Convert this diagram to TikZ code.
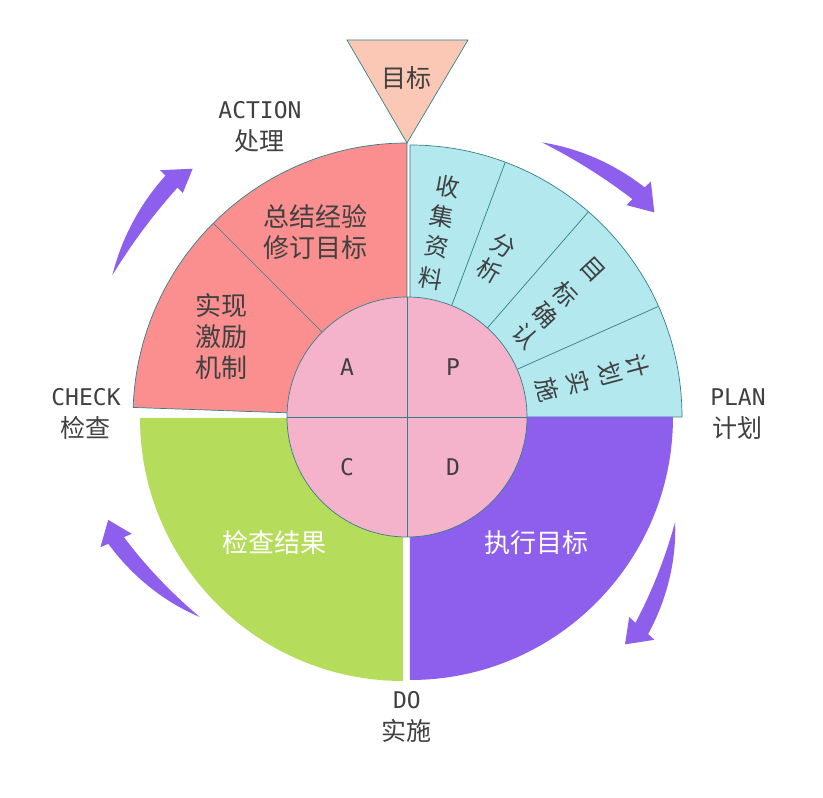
\documentclass[tikz,border=0pt]{standalone}
\usepackage{fontspec}
\setmainfont{Noto Sans CJK SC}
\newfontfamily\latinmono{DejaVu Sans Mono}
\definecolor{edgec}{RGB}{52,128,135}
\definecolor{txtc}{RGB}{64,64,64}
\definecolor{actc}{RGB}{251,143,143}
\definecolor{planc}{RGB}{178,232,238}
\definecolor{checkc}{RGB}{181,221,91}
\definecolor{doclr}{RGB}{142,95,236}
\definecolor{corec}{RGB}{245,178,203}
\definecolor{goalc}{RGB}{250,200,180}
\tikzset{
  sector/.style={draw=edgec, line width=0.7pt},
  tag/.style={text=txtc, font=\latinmono\fontsize{23}{28}\selectfont, inner sep=0pt},
  lab/.style={text=txtc, font=\fontsize{25}{30}\selectfont, inner sep=0pt},
  qtext/.style={font=\fontsize{26}{31}\selectfont, inner sep=0pt, align=center},
  seg/.style={text=txtc, font=\fontsize{24}{24}\selectfont, inner sep=0pt},
}
% 弯箭头：尾角, 尾半径, 根角, 根半径, 尖角, 尖半径, 身半宽, 头半宽
\newcommand{\cyclearrow}[8]{%
  \fill[doclr] plot[domain=0:1, samples=30, variable=\t]
      ({#1+\t*(#3-#1)}:{#2+\t*(#4-#2)+#7*\t*(2-\t)})
    -- ({#3}:{#4+#8}) -- ({#5}:{#6}) -- ({#3}:{#4-#8})
    -- plot[domain=1:0, samples=30, variable=\t]
      ({#1+\t*(#3-#1)}:{#2+\t*(#4-#2)-#7*\t*(2-\t)}) -- cycle;
}
\begin{document}
\begin{tikzpicture}[x=1pt, y=1pt]
  \useasboundingbox (-407,-381) rectangle (416,417);
  % 四个扇形
  \filldraw[sector, fill=actc] (0,0) -- (90:274) arc[start angle=90, end angle=178, radius=274] -- cycle;
  \filldraw[sector, fill=planc] (3,0) -- (3,272) arc[start angle=90, end angle=0, radius=272] -- cycle;
  \fill[checkc] (-4,-1) -- (-267,-1) arc[start angle=180, end angle=270, radius=263] -- cycle;
  \fill[doclr] (3,0) -- (3,-263) arc[start angle=270, end angle=360, radius=263] -- cycle;
  % 分隔线
  \draw[edgec, line width=0.7pt] (135:118) -- (135:274);
  \foreach \a in {69.5,49,24}
    \draw[edgec, line width=0.7pt] ([shift={(3,0)}]\a:118) -- ([shift={(3,0)}]\a:272);
  % 中心圆
  \filldraw[sector, fill=corec] (0,0) circle[radius=120];
  \draw[edgec, line width=0.7pt] (-120,0) -- (120,0) (0,-120) -- (0,120);
  \node[tag] (pA) at (-60,50) {A};
  \node[tag] (pP) at (46,50) {P};
  \node[tag] (pC) at (-60,-50) {C};
  \node[tag] (pD) at (46,-50) {D};
  % 目标三角形
  \filldraw[sector, fill=goalc] (-60,377) -- (61,377) -- (0,274) -- cycle;
  \node[lab] (goal) at (0,339) {目标};
  % 扇形内文字
  \node[qtext, text=txtc] (sumup) at (-91,185) {总结经验\\修订目标};
  \node[qtext, text=txtc] (reward) at (-185,80) {实现\\激励\\机制};
  \node[qtext, text=white] (checkres) at (-132,-126) {检查结果};
  \node[qtext, text=white] (dogoal) at (130,-126) {执行目标};
  \foreach \ch/\x/\y/\r [count=\k] in {收/40.5/230.3/-10, 集/34.7/200.3/-10, 资/29.7/170.3/-10, 料/23.7/138/-10,
      分/96.3/171.3/-30, 析/82/146.3/-30,
      目/186.3/147/-47, 标/158.7/123/-47, 确/138.7/102/-47, 认/118.7/81.3/-47,
      计/230.3/51.3/-75, 划/203/43.7/-75, 实/171.3/34.7/-75, 施/140.3/27/-75}
    \node[seg, rotate=\r] (seg\k) at (\x,\y) {\ch};
  % 外侧标签
  \node[tag] (actEn) at (-147,307) {ACTION};
  \node[lab] (actCn) at (-147,276) {处理};
  \node[tag] (planEn) at (331,20) {PLAN};
  \node[lab] (planCn) at (331,-11) {计划};
  \node[tag] (checkEn) at (-321,20) {CHECK};
  \node[lab] (checkCn) at (-321,-11) {检查};
  \node[tag] (doEn) at (0,-283) {DO};
  \node[lab] (doCn) at (0,-314) {实施};
  % 循环箭头
  \cyclearrow{63.8}{306}{44}{322}{39.6}{321}{8.5}{17}
  \cyclearrow{338.6}{288}{318}{316}{313.8}{315}{8.5}{17}
  \cyclearrow{224}{288}{203}{316}{199}{316}{8.5}{17}
  \cyclearrow{154.3}{327}{135}{333}{130.8}{328}{8.5}{16}
\end{tikzpicture}
\end{document}
